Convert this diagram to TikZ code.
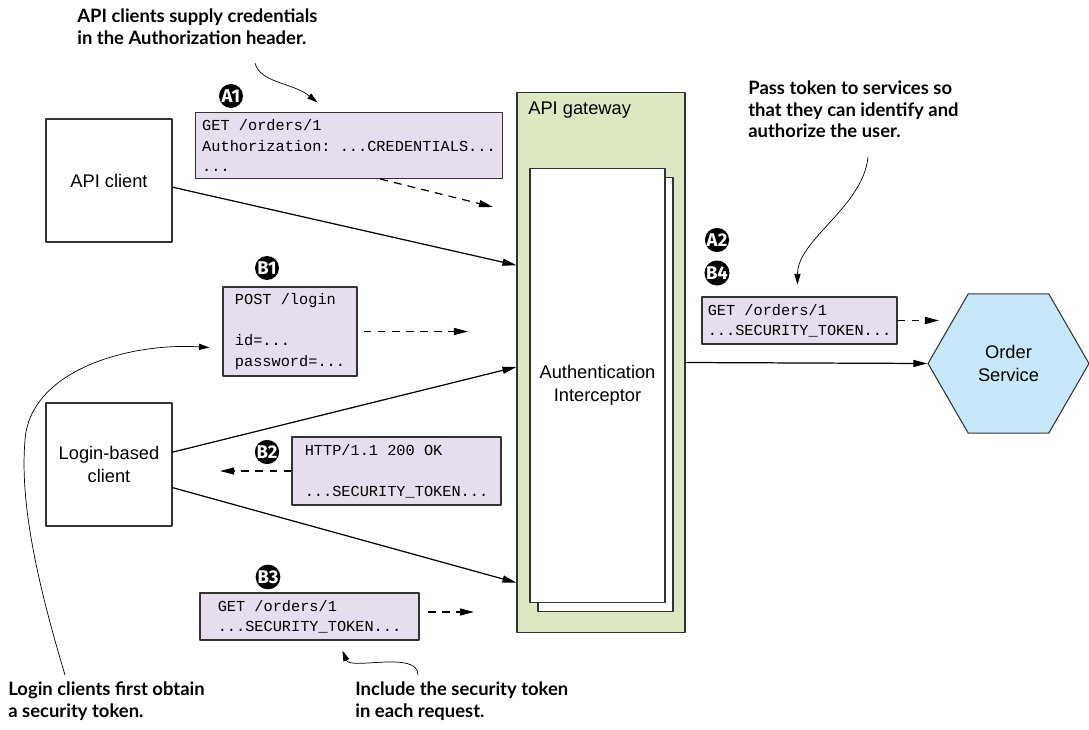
\documentclass[tikz,border=0pt]{standalone}
\usepackage{fontspec}
\setmainfont{Liberation Sans}
\setmonofont{Liberation Mono}
\newfontfamily\notefont{Lato}
\newfontfamily\badgefont{Fira Sans}
\usetikzlibrary{arrows.meta,shapes.geometric,calc}
\definecolor{msgfill}{HTML}{E6DDEF}
\definecolor{gwfill}{HTML}{DBE8C2}
\definecolor{svcfill}{HTML}{C7E8F8}
\definecolor{edge}{HTML}{333333}

\begin{document}
\begin{tikzpicture}[x=0.02cm, y=-0.02cm, line join=round,
  client/.style={draw=edge, line width=0.6pt, fill=white, minimum width=2.52cm, minimum height=2.46cm, align=center, font=\fontsize{10.4}{13}\selectfont},
  msg/.style 2 args={draw=edge, line width=0.6pt, fill=msgfill, minimum width=#1*0.02cm, minimum height=#2*0.02cm, inner sep=0pt, align=left, font=\ttfamily\fontsize{8.7}{11.6}\selectfont},
  layer/.style={draw=edge, line width=0.6pt, fill=white, minimum width=2.7cm, minimum height=8.7cm, align=center, font=\fontsize{10.4}{13}\selectfont},
  badge/.style={circle, fill=black, text=white, inner sep=0pt, minimum size=0.48cm, font=\badgefont\bfseries\fontsize{10.5}{10.5}\selectfont},
  note/.style={anchor=north west, align=left, inner sep=0pt, font=\notefont\bfseries\fontsize{10.5}{12.5}\selectfont},
  call/.style={-{Triangle[length=8pt,width=4pt]}, line width=0.7pt},
  flow/.style={call, dash pattern=on 4.5pt off 3.5pt},
  pointer/.style={-{Triangle[length=6pt,width=3.5pt]}, line width=0.4pt}]
\useasboundingbox (0,0) rectangle (1089,730);

\node[note] (noteA) at (77,8) {API clients supply credentials\\in the Authorization header.};
\node[note] (noteS) at (748,80) {Pass token to services so\\that they can identify and\\authorize the user.};
\node[note] (noteL) at (8,681) {Login clients first obtain\\a security token.};
\node[note] (noteR) at (355,681) {Include the security token\\in each request.};

\node[client] (apiclient) at (109,180.5) {API client};
\node[client] (loginclient) at (109,464.5) {Login-based\\client};

\node[draw=edge, line width=0.6pt, fill=gwfill, minimum width=3.36cm, minimum height=10.82cm] (gateway) at (601,362.5) {};
\node[anchor=west, inner sep=0pt, font=\fontsize{10.4}{13}\selectfont] (gwname) at (528,110) {API gateway};
\node[layer] (intback) at (605.5,394.5) {};
\node[layer] (interceptor) at (597.5,385.5) {Authentication\\Interceptor};

\node[draw=edge, line width=0.6pt, fill=svcfill, regular polygon, regular polygon sides=6, minimum size=3.22cm, inner sep=0pt, align=center, font=\fontsize{10.4}{13}\selectfont] (service) at (1008.5,363.5) {Order\\Service};

\node[msg={307}{66}] (reqA) at (349,145.5) {GET /orders/1\\Authorization: ...CREDENTIALS...\\...};
\node[msg={134}{89}] (login) at (290,331.5) {POST /login\\[11.6pt]id=...\\password=...};
\node[msg={209}{68}] (token) at (396.5,471) {HTTP/1.1 200 OK\\[11.6pt]...SECURITY\_TOKEN...};
\node[msg={219}{47}] (reqB) at (309.5,616.5) {GET /orders/1\\...SECURITY\_TOKEN...};
\node[msg={195}{47}] (fwd) at (799.5,320.5) {GET /orders/1\\...SECURITY\_TOKEN...};

\foreach \n/\x/\y in {A1/231/96,B1/267/268,B2/267/452,B3/268/577,A2/717/240,B4/717/273}
  \node[badge] (\n) at (\x,\y) {\n};

\draw[call] (apiclient.-6.8) -- (gateway.131.9);
\draw[call] (loginclient.11.2) -- (gateway.-177.6);
\draw[call] (loginclient.-20.5) -- (gateway.-111.6);
\draw[call] (gateway.east) -- (service.west);

\coordinate (a1end) at (493,207);
\coordinate (b1end) at (468,331.5);
\coordinate (b2end) at (220,471);
\coordinate (b3end) at (474,612);
\coordinate (fwdend) at (939,320.5);
\draw[flow] (reqA.-47) -- (a1end);
\draw[flow, shorten <=3.4pt] (login.east) -- (b1end);
\draw[flow] (token.west) -- (b2end);
\draw[flow, shorten <=5pt] (reqB.east |- b3end) -- (b3end);
\draw[flow] (fwd.east) -- (fwdend);

\draw[pointer] ($(noteA.north west)+(178,55)$) .. controls +(5,20) and +(-25,-20) .. ($(reqA.north west)+(122.5,-9.5)$);
\draw[pointer] ($(noteS.north west)+(120,77)$) .. controls +(-5,50) and +(0,-45) .. ($(fwd.north west)+(96,-12)$);
\draw[pointer] ($(noteL.north west)+(57,-6)$) .. controls +(-30,-100) and +(-5,60) .. (25,440) .. controls +(5,-70) and +(-80,-5) .. ($(login.west)+(-13,16)$);
\draw[pointer] ($(noteR.north west)+(63,-6)$) .. controls +(0,-25) and +(8,20) .. ($(reqB.south west)+(143,10)$);
\end{tikzpicture}
\end{document}
